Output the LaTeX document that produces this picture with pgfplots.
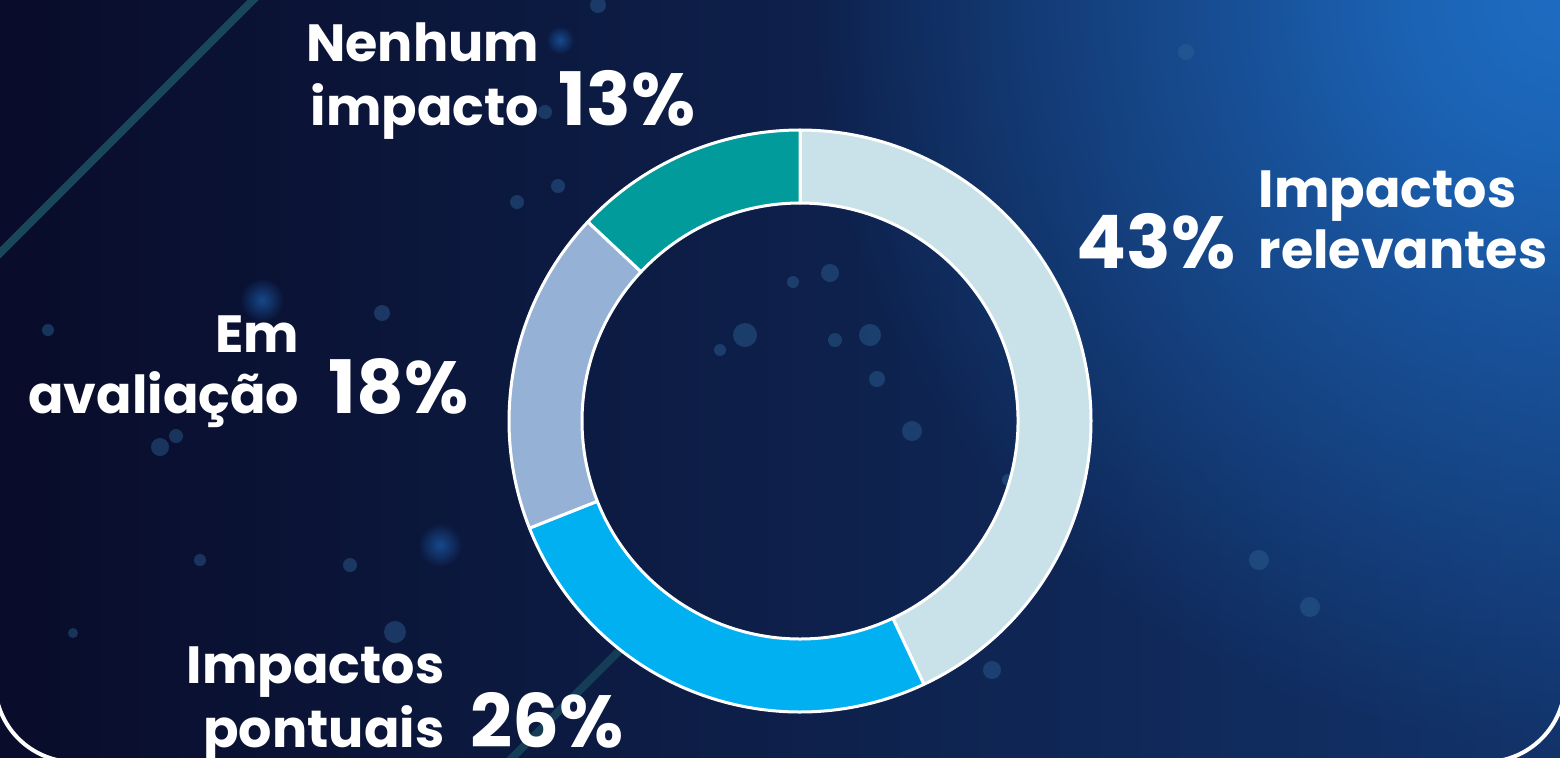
\documentclass[border=0pt]{standalone}
\usepackage{pgfplots}
\pgfplotsset{compat=1.18}
\usepackage{pgfplotstable}
\usepackage{fontspec}
\setmainfont{Poppins}
\usetikzlibrary{fadings}

\definecolor{bgleft}{HTML}{090C2A}
\definecolor{bgright}{HTML}{12336A}
\definecolor{glow}{HTML}{1E6CC2}
\definecolor{dotc}{HTML}{2D6396}
\definecolor{streak}{HTML}{1C5566}
\definecolor{relev}{HTML}{C9E2E9}
\definecolor{pontu}{HTML}{00B0F0}
\definecolor{aval}{HTML}{95B2D6}
\definecolor{nenhum}{HTML}{009B9A}

\tikzfading[name=glowfade, inner color=transparent!0, outer color=transparent!100]

% share of answers, clockwise from the top
\pgfplotstableread{
name value color
relevantes 43 relev
pontuais 26 pontu
avaliacao 18 aval
nenhum 13 nenhum
}\donut

\newcommand\drawsegments{%
  \gdef\angstart{90}%
  \pgfplotstableforeachcolumnelement{value}\of\donut\as\val{%
    \pgfplotstablegetelem{\pgfplotstablerow}{color}\of\donut
    \let\segcol\pgfplotsretval
    \pgfmathsetmacro\angend{\angstart-3.6*\val}%
    \filldraw[fill=\segcol, draw=white, line width=0.3mm, line join=round]
      ([shift={(\angstart:29.1mm)}]axis cs:800,336)
      arc[start angle=\angstart, end angle=\angend, radius=29.1mm]
      -- ([shift={(\angend:21.8mm)}]axis cs:800,336)
      arc[start angle=\angend, end angle=\angstart, radius=21.8mm]
      -- cycle;
    \xdef\angstart{\angend}%
  }%
}

\begin{document}
\begin{tikzpicture}[x=0.1mm, y=-0.1mm]
\begin{scope}
\clip (0,0) rectangle (1560,757);
\shade[left color=bgleft, right color=bgright] (0,0) rectangle (1560,757);
\fill[glow, path fading=glowfade] (1560,0) circle[radius=750];
\fill[glow, path fading=glowfade, opacity=0.5] (1560,0) circle[radius=300];
% faint streaks
\draw[streak, line width=0.8mm, opacity=0.8] (258,-5) -- (-5,258);
\draw[streak, line width=0.8mm, opacity=0.6] (640,630) -- (500,770);
% bokeh dots
\foreach \px/\py/\pr in {598/5/8, 1186/52/8, 558/186/7, 517/202/7, 382/313/8,
  745/335/12, 720/350/6, 835/340/7, 870/335/11, 830/273/9, 793/282/6,
  877/379/8, 912/431/10, 1259/560/10, 1310/607/10, 992/670/9, 160/447/9,
  176/436/7, 48/330/6, 350/565/7, 395/632/11, 73/633/5, 200/560/6,
  545/112/7, 1008/480/6}
  \fill[dotc, opacity=0.45] (\px,\py) circle[radius=\pr];
\foreach \px/\py/\pr in {440/545/22, 262/300/22, 560/40/14}
  \fill[glow, path fading=glowfade, opacity=0.6] (\px,\py) circle[radius=\pr];
\draw[white, line width=0.4mm, rounded corners=8mm] (-5,-100) rectangle (1565,762);
\end{scope}

\begin{axis}[at={(0,0)}, anchor=north west, width=156mm, height=75.7mm,
  scale only axis, xmin=0, xmax=1560, ymin=0, ymax=757, hide axis,
  clip=false]
\pgfplotsextra{\drawsegments}
\end{axis}

\begin{scope}[every node/.style={inner sep=0pt, text=white}]
\def\lab{\fontsize{14.9}{18}\selectfont\bfseries}
\def\pct{\fontsize{21}{25}\selectfont\bfseries}
\node[anchor=base east] at (540,61) {\lab Nenhum};
\node[anchor=base east] at (540,125) {\lab impacto};
\node[anchor=base west] at (558,125) {\pct 13\%};
\node[anchor=base west] at (1258,207) {\lab Impactos};
\node[anchor=base west] at (1258,268) {\lab relevantes};
\node[anchor=base east] at (1236,268) {\pct 43\%};
\node[anchor=base east] at (300,352) {\lab Em};
\node[anchor=base east] at (300,413) {\lab avaliação};
\node[anchor=base west] at (328,413) {\pct 18\%};
\node[anchor=base east] at (445,683) {\lab Impactos};
\node[anchor=base east] at (445,747) {\lab pontuais};
\node[anchor=base west] at (470,747) {\pct 26\%};
\end{scope}
\pgfresetboundingbox
\useasboundingbox (0,0) rectangle (1560,757);
\end{tikzpicture}
\end{document}
